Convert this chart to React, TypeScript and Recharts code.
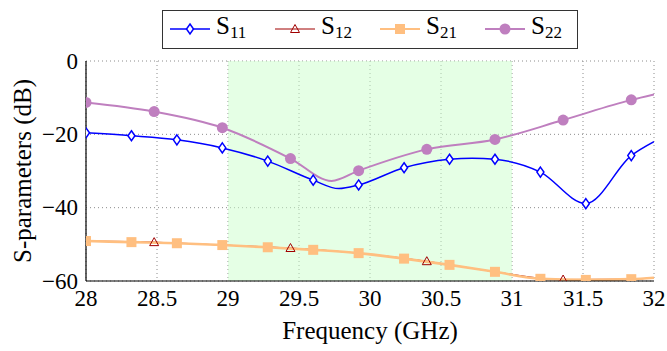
import React from 'react';
import { ComposedChart, Line, XAxis, YAxis, CartesianGrid, ReferenceArea } from 'recharts';

// S11 / S21 sampled on the same grid, S12 / S22 on a coarser one
const s11Freq = [28, 28.32, 28.64, 28.96, 29.28, 29.6, 29.78, 29.92, 30.24, 30.56, 30.72, 30.88, 31.2, 31.52, 31.84, 32];
const s11Vals = [-19.6, -20.4, -21.5, -23.7, -27.3, -32.5, -34.8, -33.8, -29.1, -26.8, -26.5, -26.8, -30.3, -38.9, -25.8, -22];
const s11Mark = [1, 1, 1, 1, 1, 1, 0, 1, 1, 1, 0, 1, 1, 1, 1, 0];

const s12Freq = [28, 28.48, 28.96, 29.44, 29.92, 30.4, 30.88, 31.36, 31.84, 32];
const s12Vals = [-49.1, -49.4, -50.2, -51.0, -52.4, -54.6, -57.5, -59.6, -59.5, -59.1];
const s12Mark = [0, 1, 0, 1, 0, 1, 0, 1, 0, 0];

const s21Freq = [28, 28.32, 28.64, 28.96, 29.28, 29.6, 29.92, 30.24, 30.56, 30.88, 31.2, 31.52, 31.84, 32];
const s21Vals = [-49.1, -49.4, -49.7, -50.2, -50.8, -51.5, -52.4, -53.9, -55.6, -57.5, -59.4, -59.7, -59.5, -59.1];
const s21Mark = [1, 1, 1, 1, 1, 1, 1, 1, 1, 1, 1, 1, 1, 0];

const s22Freq = [28, 28.48, 28.96, 29.44, 29.73, 29.92, 30.4, 30.88, 31.36, 31.84, 32];
const s22Vals = [-11.3, -13.8, -18.2, -26.6, -32.7, -29.9, -24.1, -21.4, -16.1, -10.6, -9.1];
const s22Mark = [1, 1, 1, 1, 0, 1, 1, 1, 1, 1, 0];

const xTicks = [28, 28.5, 29, 29.5, 30, 30.5, 31, 31.5, 32];
const xMinor = [28.25, 28.75, 29.25, 29.75, 30.25, 30.75, 31.25, 31.75];
const yTicks = [-60, -40, -20, 0];
const yMinor = [-50, -30, -10];
const band = [29, 31];

const FONT = '"Liberation Serif", serif';
const BLUE = '#0000ff';
const DARKRED = '#a00000';
const ORANGE = '#ffbf80';
const PURPLE = '#bf7fbf';

const toRows = (f: number[], v: number[], m: number[]) => f.map((x, i) => ({ f: x, v: v[i], m: m[i] }));

const diamond = (cx: number, cy: number) => (
  <polygon points={`${cx},${cy - 5} ${cx + 3.5},${cy} ${cx},${cy + 5} ${cx - 3.5},${cy}`} fill="#fff" stroke={BLUE} strokeWidth={1.5} />
);
const triangle = (cx: number, cy: number) => (
  <polygon points={`${cx},${cy - 4.5} ${cx + 4.5},${cy + 3.5} ${cx - 4.5},${cy + 3.5}`} fill="none" stroke={DARKRED} strokeWidth={1} />
);
const square = (cx: number, cy: number) => <rect x={cx - 5} y={cy - 5} width={10} height={10} fill={ORANGE} />;
const circle = (cx: number, cy: number) => <circle cx={cx} cy={cy} r={5.5} fill={PURPLE} />;

const makeDot = (shape: (cx: number, cy: number) => React.ReactElement) => (props: any) => (
  <g key={`dot-${props.index}`}>{props.payload && props.payload.m ? shape(props.cx, props.cy) : null}</g>
);

const fmtY = (v: number) => (v < 0 ? `\u2212${Math.abs(v)}` : `${v}`);

const txt = { fontFamily: FONT, fill: '#000' };

// axis text drawn by hand so the serif font really sticks
const XTick = (props: any) => (
  <text x={props.x} y={props.y} dy="0.71em" textAnchor="middle" fontSize={23} style={txt}>
    {props.payload.value}
  </text>
);
const YTick = (props: any) => (
  <text x={props.x} y={props.y} dy="0.34em" textAnchor="end" fontSize={23} style={txt}>
    {fmtY(props.payload.value)}
  </text>
);
const XLabel = (props: any) => {
  const vb = props.viewBox;
  return (
    <text x={vb.x + vb.width / 2} y={vb.y + vb.height - 12} textAnchor="middle" fontSize={25} style={txt}>
      Frequency (GHz)
    </text>
  );
};
const YLabel = (props: any) => {
  const vb = props.viewBox;
  const cx = vb.x + 31;
  const cy = vb.y + vb.height / 2;
  return (
    <text x={cx} y={cy} transform={`rotate(-90, ${cx}, ${cy})`} textAnchor="middle" fontSize={25} style={txt}>
      S-parameters (dB)
    </text>
  );
};

const legendItems = [
  { name: '11', color: BLUE, shape: diamond, width: 1.5 },
  { name: '12', color: DARKRED, shape: triangle, width: 1 },
  { name: '21', color: ORANGE, shape: square, width: 2 },
  { name: '22', color: PURPLE, shape: circle, width: 2 },
];

const LegendBox = () => (
  <div
    style={{
      position: 'absolute',
      left: 162,
      top: 10,
      width: 414,
      height: 37,
      border: '1.3px solid #333',
      fontFamily: FONT,
      background: '#fff',
    }}
  >
    {legendItems.map((it, i) => (
      <div key={it.name} style={{ position: 'absolute', left: 7 + i * 105, top: 2, display: 'flex', alignItems: 'center', height: 32 }}>
        <svg width={40} height={16}>
          <line x1={0} y1={8} x2={40} y2={8} stroke={it.color} strokeWidth={it.width} />
          {it.shape(20, 8)}
        </svg>
        <span style={{ marginLeft: 6, fontSize: 25, color: '#000', lineHeight: '28px' }}>
          S<sub style={{ fontSize: 17, verticalAlign: '-4px' }}>{it.name}</sub>
        </span>
      </div>
    ))}
  </div>
);

const App: React.FC = () => {
  return (
    <div className="sparam-chart" style={{ position: 'absolute', left: 0, top: 0, width: 667, height: 351, background: '#fff', fontFamily: FONT }}>
      <style>{'.sparam-chart svg text { font-family: "Liberation Serif", serif !important; }'}</style>
      <ComposedChart width={667} height={351} margin={{ top: 61, right: 13, bottom: 0, left: 0 }}>
        <ReferenceArea x1={band[0]} x2={band[1]} fill="#ccffcc" fillOpacity={0.5} stroke="none" />
        <CartesianGrid stroke="#8c8c8c" strokeDasharray="1 3" />
        <XAxis
          dataKey="f"
          type="number"
          domain={[28, 32]}
          ticks={xTicks}
          interval={0}
          tickLine={false}
          tickSize={0}
          tickMargin={9}
          height={70}
          axisLine={{ stroke: '#000', strokeWidth: 1.2 }}
          tick={XTick}
          label={XLabel}
          allowDataOverflow
        />
        <YAxis
          type="number"
          domain={[-60, 0]}
          ticks={yTicks}
          interval={0}
          tickLine={false}
          tickSize={0}
          tickMargin={8}
          width={86}
          axisLine={{ stroke: '#000', strokeWidth: 1.2 }}
          tick={YTick}
          label={YLabel}
          allowDataOverflow
        />
        {/* inward tick marks and the frame, drawn through mirrored axes */}
        <XAxis xAxisId="bMaj" type="number" domain={[28, 32]} ticks={xTicks} interval={0} mirror height={0} tick={false} axisLine={false} tickLine={{ stroke: '#000' }} tickSize={6} />
        <XAxis xAxisId="bMin" type="number" domain={[28, 32]} ticks={xMinor} interval={0} mirror height={0} tick={false} axisLine={false} tickLine={{ stroke: '#000' }} tickSize={4} />
        <XAxis xAxisId="tMaj" orientation="top" type="number" domain={[28, 32]} ticks={xTicks} interval={0} mirror height={0} tick={false} axisLine={{ stroke: '#000', strokeWidth: 1.2 }} tickLine={{ stroke: '#000' }} tickSize={6} />
        <XAxis xAxisId="tMin" orientation="top" type="number" domain={[28, 32]} ticks={xMinor} interval={0} mirror height={0} tick={false} axisLine={false} tickLine={{ stroke: '#000' }} tickSize={4} />
        <YAxis yAxisId="lMaj" type="number" domain={[-60, 0]} ticks={yTicks} interval={0} mirror width={0} tick={false} axisLine={false} tickLine={{ stroke: '#000' }} tickSize={6} />
        <YAxis yAxisId="lMin" type="number" domain={[-60, 0]} ticks={yMinor} interval={0} mirror width={0} tick={false} axisLine={false} tickLine={{ stroke: '#000' }} tickSize={4} />
        <YAxis yAxisId="rMaj" orientation="right" type="number" domain={[-60, 0]} ticks={yTicks} interval={0} mirror width={0} tick={false} axisLine={{ stroke: '#000', strokeWidth: 1.2 }} tickLine={{ stroke: '#000' }} tickSize={6} />
        <YAxis yAxisId="rMin" orientation="right" type="number" domain={[-60, 0]} ticks={yMinor} interval={0} mirror width={0} tick={false} axisLine={false} tickLine={{ stroke: '#000' }} tickSize={4} />

        <Line data={toRows(s12Freq, s12Vals, s12Mark)} dataKey="v" type="monotone" stroke={DARKRED} strokeWidth={1} dot={makeDot(triangle)} activeDot={false} isAnimationActive={false} />
        <Line data={toRows(s21Freq, s21Vals, s21Mark)} dataKey="v" type="monotone" stroke={ORANGE} strokeWidth={2.6} dot={makeDot(square)} activeDot={false} isAnimationActive={false} />
        <Line data={toRows(s22Freq, s22Vals, s22Mark)} dataKey="v" type="monotone" stroke={PURPLE} strokeWidth={2} dot={makeDot(circle)} activeDot={false} isAnimationActive={false} />
        <Line data={toRows(s11Freq, s11Vals, s11Mark)} dataKey="v" type="monotone" stroke={BLUE} strokeWidth={1.5} dot={makeDot(diamond)} activeDot={false} isAnimationActive={false} />
      </ComposedChart>
      <LegendBox />
    </div>
  );
};

export default App;
